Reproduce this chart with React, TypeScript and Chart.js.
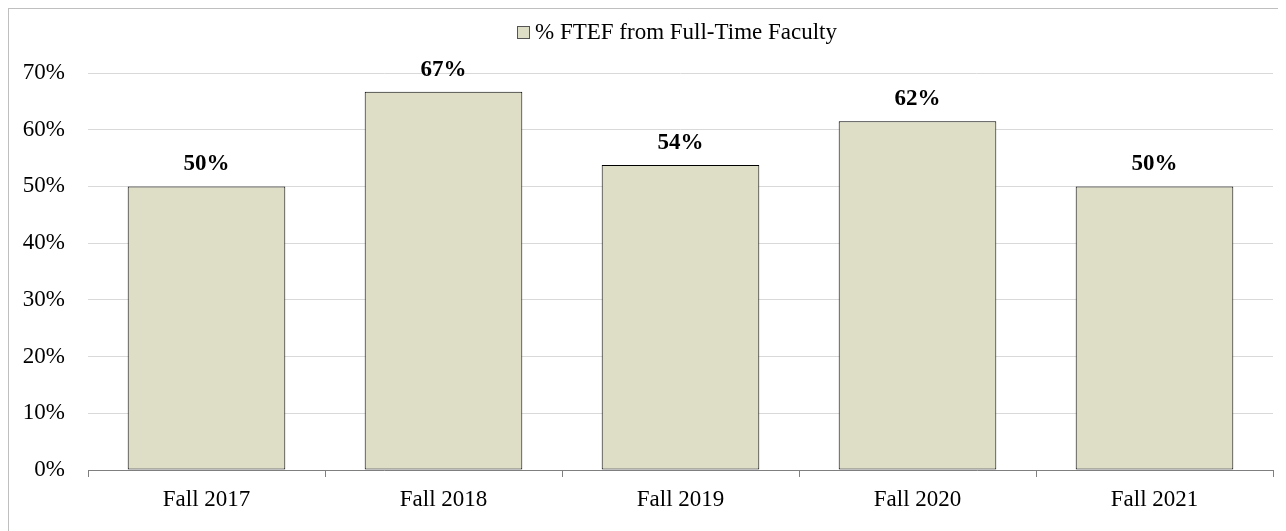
import React, { useEffect, useRef } from "react";
import { Chart, registerables } from "chart.js";

Chart.register(...registerables);

const categories = ["Fall 2017", "Fall 2018", "Fall 2019", "Fall 2020", "Fall 2021"];
const values = [50.0, 66.7, 53.8, 61.5, 50.0];
const seriesName = "% FTEF from Full-Time Faculty";
const yTicks = [0, 10, 20, 30, 40, 50, 60, 70];

const FONT = '"Liberation Serif", "Times New Roman", serif';
const BAR_FILL = "#DEDEC7";

const dataLabels = {
  id: "dataLabels",
  afterDatasetsDraw(chart: any) {
    const ctx = chart.ctx;
    const meta = chart.getDatasetMeta(0);
    ctx.save();
    ctx.font = `bold 23px ${FONT}`;
    ctx.fillStyle = "#000";
    ctx.textAlign = "center";
    ctx.textBaseline = "alphabetic";
    meta.data.forEach((bar: any, i: number) => {
      ctx.fillText(Math.round(values[i]) + "%", bar.x, bar.y - 16);
    });
    ctx.restore();
  },
};

const customLegend = {
  id: "customLegend",
  afterDraw(chart: any) {
    const ctx = chart.ctx;
    ctx.save();
    ctx.fillStyle = BAR_FILL;
    ctx.fillRect(508, 17, 12, 12);
    ctx.strokeStyle = "#555";
    ctx.lineWidth = 1;
    ctx.strokeRect(508.5, 17.5, 12, 12);
    ctx.font = `23px ${FONT}`;
    ctx.fillStyle = "#000";
    ctx.textAlign = "left";
    ctx.textBaseline = "alphabetic";
    ctx.fillText(seriesName, 526, 30);
    ctx.restore();
  },
};

export default function App() {
  const ref = useRef<HTMLCanvasElement | null>(null);
  useEffect(() => {
    if (!ref.current) return;
    const chart = new Chart(ref.current, {
      type: "bar",
      data: {
        labels: categories,
        datasets: [
          {
            label: seriesName,
            data: values,
            backgroundColor: BAR_FILL,
            borderColor: "#000",
            borderWidth: 1,
            borderSkipped: false,
            barPercentage: 0.665,
            categoryPercentage: 1,
          },
        ],
      },
      options: {
        responsive: false,
        animation: false,
        layout: { padding: { top: 64, right: 13, bottom: 0, left: 0 } },
        plugins: {
          legend: { display: false },
          tooltip: { enabled: false },
        },
        scales: {
          x: {
            grid: {
              offset: true,
              drawOnChartArea: false,
              drawTicks: true,
              tickLength: 7,
              color: "#7f7f7f",
            },
            border: { display: true, color: "#7f7f7f", width: 1 },
            ticks: {
              font: { family: FONT, size: 23 },
              color: "#000",
              padding: 9,
              maxRotation: 0,
            },
            afterFit: (scale: any) => {
              scale.height = 61;
            },
          },
          y: {
            min: 0,
            max: 70,
            grid: { color: "#d9d9d9", drawTicks: false },
            border: { display: false },
            ticks: {
              stepSize: 10,
              padding: 23,
              font: { family: FONT, size: 23 },
              color: "#000",
              callback: (v: any) => (yTicks.includes(Number(v)) ? v + "%" : ""),
            },
            afterFit: (scale: any) => {
              scale.width = 79;
            },
          },
        },
      },
      plugins: [dataLabels, customLegend],
    });
    return () => chart.destroy();
  }, []);

  return (
    <div
      style={{
        width: 1277,
        height: 522,
        borderLeft: "1px solid #bfbfbf",
        borderTop: "1px solid #bfbfbf",
        background: "#fff",
        overflow: "hidden",
      }}
    >
      <canvas ref={ref} width={1277} height={522} style={{ display: "block" }} />
    </div>
  );
}
